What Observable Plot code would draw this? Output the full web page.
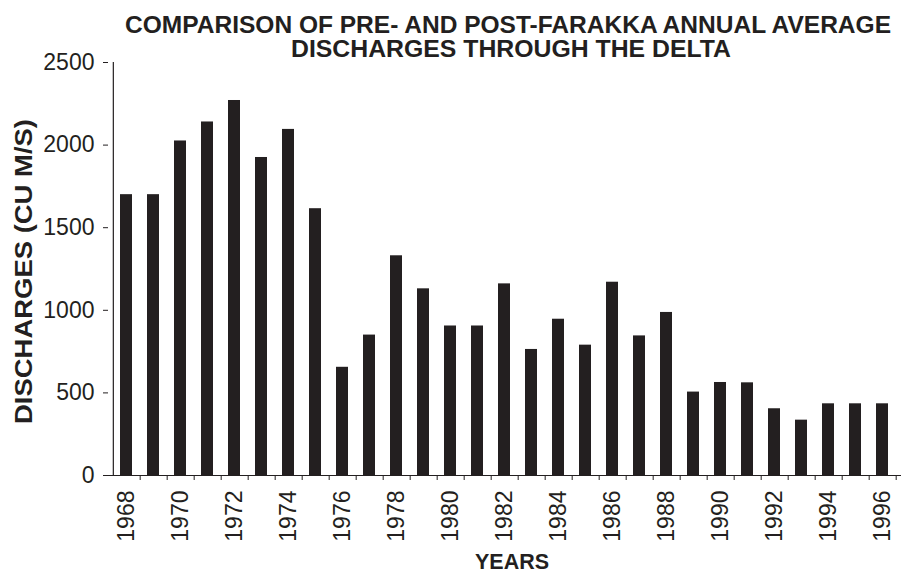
<!DOCTYPE html>
<html>
<head>
<meta charset="utf-8">
<script src="https://cdn.jsdelivr.net/npm/d3@7"></script>
<script src="https://cdn.jsdelivr.net/npm/@observablehq/plot@0.6"></script>
<style>
  html, body { margin: 0; padding: 0; background: #fff; }
  svg { font-family: "Liberation Sans", Arial, sans-serif; }
</style>
</head>
<body>
<div id="chart"></div>
<script>
const years = [1968,1969,1970,1971,1972,1973,1974,1975,1976,1977,1978,1979,1980,1981,1982,1983,1984,1985,1986,1987,1988,1989,1990,1991,1992,1993,1994,1995,1996];
const discharges = [1700,1700,2025,2140,2270,1925,2095,1615,655,850,1330,1130,905,905,1160,763,946,789,1170,845,987,505,563,561,404,335,434,434,434];
const yTicks = [0,500,1000,1500,2000,2500];
const labeledYears = [1968,1970,1972,1974,1976,1978,1980,1982,1984,1986,1988,1990,1992,1994,1996];
const titleLines = ["COMPARISON OF PRE- AND POST-FARAKKA ANNUAL AVERAGE", "DISCHARGES THROUGH THE DELTA"];
const yLabel = "DISCHARGES (CU M/S)";
const xLabel = "YEARS";

const data = years.map((y, i) => ({year: y, value: discharges[i]}));

const W = 901, H = 573, mL = 108, mR = 0, mT = 62, mB = 98;
const step = (W - mL - mR) / years.length;
const ink = "#231f20";

const chart = Plot.plot({
  width: W, height: H,
  marginLeft: mL, marginRight: mR, marginTop: mT, marginBottom: mB,
  style: {fontFamily: "Liberation Sans, Arial, sans-serif", fontSize: "23px", color: ink, background: "#fff", overflow: "visible"},
  x: {type: "band", domain: years, paddingInner: 0.54, paddingOuter: 0.27, align: 0.5, label: null},
  y: {domain: [0, 2500], label: null},
  marks: [
    Plot.barY(data, {x: "year", y: "value", fill: ink}),
    // x axis boundary ticks
    Plot.axisX(years, {tickSize: 5, tickFormat: () => "", dx: step / 2, stroke: ink, label: null}),
    // x axis labels
    Plot.axisX(labeledYears, {tickSize: 0, tickPadding: 15, tickRotate: -90, tickFormat: d => String(d), fontSize: 23, fill: ink, label: null}),
    // y axis
    Plot.axisY(yTicks, {tickSize: 5, tickPadding: 9, tickFormat: d => String(d), fontSize: 23, fill: ink, stroke: ink, label: null}),
    // axis lines
    Plot.ruleY([0], {stroke: ink, strokeWidth: 1.2}),
    Plot.ruleX([years[0]], {x: d => d, y1: 0, y2: 2500, dx: -step / 2 + 0.5, stroke: ink, strokeWidth: 1.2})
  ]
});

const svg = d3.select(chart);
svg.append("text")
  .attr("x", 508).attr("y", 33)
  .attr("text-anchor", "middle")
  .attr("font-size", 23).attr("font-weight", "bold").attr("fill", ink)
  .attr("textLength", 766).attr("lengthAdjust", "spacingAndGlyphs")
  .text(titleLines[0]);
svg.append("text")
  .attr("x", 511).attr("y", 57)
  .attr("text-anchor", "middle")
  .attr("font-size", 23).attr("font-weight", "bold").attr("fill", ink)
  .attr("textLength", 440).attr("lengthAdjust", "spacingAndGlyphs")
  .text(titleLines[1]);
svg.append("text")
  .attr("transform", `translate(32, ${(mT + H - mB) / 2 + 3}) rotate(-90)`)
  .attr("text-anchor", "middle")
  .attr("font-size", 24).attr("font-weight", "bold").attr("fill", ink)
  .attr("textLength", 305).attr("lengthAdjust", "spacingAndGlyphs")
  .text(yLabel);
svg.append("text")
  .attr("x", 512).attr("y", 569)
  .attr("text-anchor", "middle")
  .attr("font-size", 22).attr("font-weight", "bold").attr("fill", ink)
  .attr("textLength", 74).attr("lengthAdjust", "spacingAndGlyphs")
  .text(xLabel);

document.getElementById("chart").appendChild(chart);
</script>
</body>
</html>
